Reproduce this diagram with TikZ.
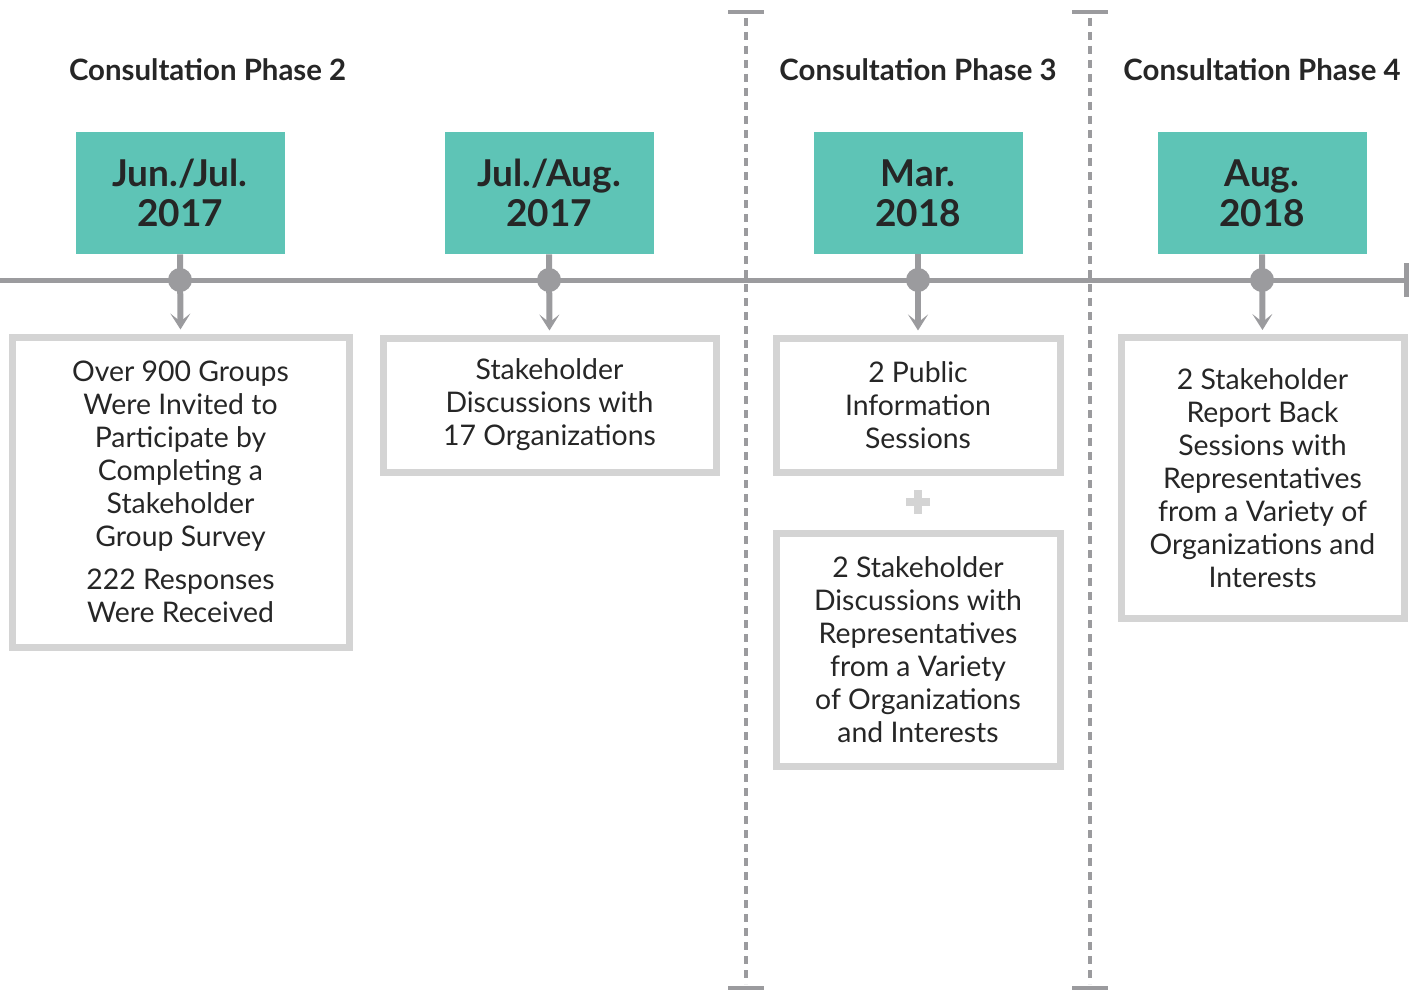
\documentclass[tikz,border=0pt]{standalone}
\usepackage{fontspec}
\setmainfont{Lato}
\usetikzlibrary{arrows.meta}
\definecolor{teal}{HTML}{5EC4B6}
\definecolor{axisgray}{HTML}{9B9B9E}
\definecolor{boxgray}{HTML}{D4D4D4}
\definecolor{ink}{HTML}{262626}
\tikzset{
  datebox/.style={fill=teal,minimum width=104.5pt,minimum height=61pt,align=center,text=ink,
    font=\fontsize{18.5}{20}\selectfont\bfseries},
  itembox/.style={draw=boxgray,line width=3.5pt,align=center,text=ink,inner sep=0pt,
    font=\fontsize{14.2}{16.5}\selectfont},
  phase/.style={text=ink,font=\fontsize{14.7}{16}\selectfont\bfseries},
  dot/.style={circle,fill=axisgray,minimum size=12pt,inner sep=0pt},
  stem/.style={draw=axisgray,line width=3pt,-{Stealth[length=8pt,width=10pt,inset=4pt]},shorten >=2pt},
  divider/.style={draw=axisgray,line width=2pt,dash pattern=on 4pt off 3pt}
}
\begin{document}
\begin{tikzpicture}[x=0.5pt,y=-0.5pt]
\useasboundingbox (0,0) rectangle (1418,990);
% phases
\node[phase,anchor=west] (ph2) at (62,70) {Consultation Phase 2};
\node[phase] (ph3) at (918,70) {Consultation Phase 3};
\node[phase] (ph4) at (1262,70) {Consultation Phase 4};
% dividers
\foreach \x in {746,1090}{
  \draw[divider] (\x,18) -- (\x,984);
  \draw[axisgray,line width=2pt] (\x-18,12) -- (\x+18,12);
  \draw[axisgray,line width=2pt] (\x-18,988) -- (\x+18,988);
}
% timeline
\draw[axisgray,line width=2.5pt] (0,280) -- (1406,280);
\draw[axisgray,line width=2.5pt] (1406,263) -- (1406,297);
% dates
\foreach \n/\x/\d in {1/180/{Jun./Jul.\\2017},2/549/{Jul./Aug.\\2017},3/918/{Mar.\\2018},4/1262/{Aug.\\2018}}{
  \node[datebox] (d\n) at (\x,193) {\d};
}
% items
\node[itembox,minimum width=168.5pt,minimum height=155pt] (i1) at (180.5,492)
  {Over 900 Groups\\Were Invited to\\Participate by\\Completing a\\Stakeholder\\Group Survey\\[5pt]222 Responses\\Were Received};
\node[itembox,minimum width=166.5pt,minimum height=67pt] (i2) at (549.5,405)
  {Stakeholder\\Discussions with\\17 Organizations};
\node[itembox,minimum width=142pt,minimum height=67pt] (i3) at (918,405)
  {2 Public\\Information\\Sessions};
\node[itembox,minimum width=142pt,minimum height=116.5pt] (i3b) at (918,650)
  {2 Stakeholder\\Discussions with\\Representatives\\from a Variety\\of Organizations\\and Interests};
\node[itembox,minimum width=141.5pt,minimum height=140.5pt] (i4) at (1262.5,478)
  {2 Stakeholder\\Report Back\\Sessions with\\Representatives\\from a Variety of\\Organizations and\\Interests};
% plus
\draw[boxgray,line width=4pt] (918,490) -- (918,514);
\draw[boxgray,line width=4pt] (906,502) -- (930,502);
% stems
\foreach \n/\x in {1/180,2/549,3/918,4/1262}{
  \draw[stem] (d\n.south) -- (i\n.north);
  \node[dot] (p\n) at (\x,280) {};
}
\end{tikzpicture}
\end{document}
